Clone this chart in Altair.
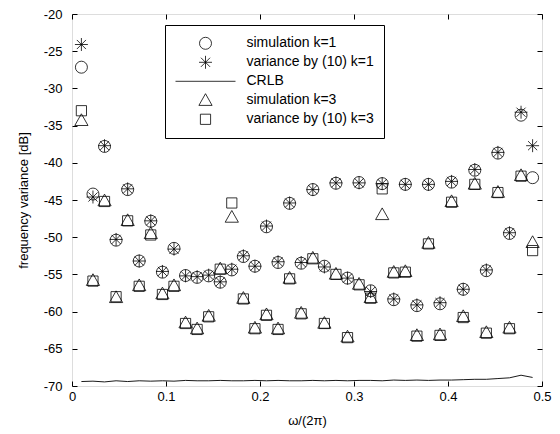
import altair as alt
import pandas as pd

# frequency positions omega/(2*pi)
x_vals = [0.0100, 0.0223, 0.0346, 0.0469, 0.0592, 0.0715, 0.0838, 0.0962, 0.1085, 0.1208,
          0.1331, 0.1454, 0.1577, 0.1700, 0.1823, 0.1946, 0.2069, 0.2192, 0.2315, 0.2438,
          0.2562, 0.2685, 0.2808, 0.2931, 0.3054, 0.3177, 0.3300, 0.3423, 0.3546, 0.3669,
          0.3792, 0.3915, 0.4038, 0.4162, 0.4285, 0.4408, 0.4531, 0.4654, 0.4777, 0.4900]

sim_k1 = [-27.15, -44.2, -37.8, -50.4, -43.6, -53.2, -47.85, -54.7, -51.5, -55.15,
          -55.4, -55.2, -56.05, -54.4, -52.6, -53.9, -48.6, -53.4, -45.45, -53.5,
          -43.6, -53.9, -42.75, -55.5, -42.65, -57.2, -42.8, -58.4, -42.9, -59.2,
          -42.9, -58.95, -42.6, -57.0, -41.0, -54.5, -38.7, -49.5, -33.6, -42.0]
var_k1 = [-24.1, -44.6, -37.7, -50.3, -43.5, -53.2, -47.8, -54.6, -51.6, -55.2,
          -55.3, -55.1, -56.0, -54.3, -52.5, -53.9, -48.5, -53.3, -45.4, -53.4,
          -43.6, -54.0, -42.7, -55.5, -42.7, -57.3, -42.8, -58.3, -42.9, -59.1,
          -42.9, -58.8, -42.5, -57.0, -40.9, -54.4, -38.6, -49.4, -33.2, -37.7]
sim_k3 = [-34.3, -55.8, -45.1, -58.1, -47.75, -56.5, -49.5, -57.6, -56.5, -61.5,
          -62.3, -60.6, -54.25, -47.3, -58.2, -62.2, -60.4, -62.3, -55.5, -60.2,
          -52.8, -61.55, -54.95, -63.4, -56.3, -58.1, -46.95, -54.7, -54.6, -63.2,
          -50.8, -63.1, -45.2, -60.65, -42.85, -62.8, -43.95, -62.2, -41.7, -50.7]
var_k3 = [-33.0, -55.9, -45.2, -58.0, -47.8, -56.6, -49.7, -57.7, -56.6, -61.6,
          -62.4, -60.7, -54.3, -45.4, -58.3, -62.3, -60.5, -62.4, -55.6, -60.3,
          -52.9, -61.6, -55.0, -63.5, -56.4, -58.2, -43.5, -54.8, -54.7, -63.3,
          -50.9, -63.2, -45.3, -60.8, -42.9, -62.9, -44.0, -62.3, -41.8, -51.8]
crlb = [-69.4, -69.35, -69.45, -69.3, -69.4, -69.3, -69.35, -69.3, -69.35, -69.25,
        -69.3, -69.3, -69.25, -69.3, -69.3, -69.25, -69.3, -69.25, -69.3, -69.3,
        -69.25, -69.3, -69.25, -69.3, -69.25, -69.25, -69.3, -69.2, -69.25, -69.2,
        -69.25, -69.2, -69.2, -69.15, -69.1, -69.1, -69.0, -68.9, -68.55, -68.85]

series_names = ["simulation k=1", "variance by (10) k=1", "CRLB",
                "simulation k=3", "variance by (10) k=3"]
x_ticks = [0, 0.1, 0.2, 0.3, 0.4, 0.5]
y_ticks = [-70, -65, -60, -55, -50, -45, -40, -35, -30, -25, -20]

STAR = "M-1.08,0L1.08,0M0,-1.08L0,1.08M-0.76,-0.76L0.76,0.76M-0.76,0.76L0.76,-0.76"
LINE = "M-5,0L5,0"
TRI = "M0,-1.1L1.1,0.85L-1.1,0.85Z"
SQ = "M-0.85,-0.85L0.85,-0.85L0.85,0.85L-0.85,0.85Z"
shapes = ["circle", STAR, LINE, TRI, SQ]

rows = []
for name, vals in [(series_names[0], sim_k1), (series_names[1], var_k1),
                   (series_names[3], sim_k3), (series_names[4], var_k3)]:
    for xv, yv in zip(x_vals, vals):
        rows.append({"x": xv, "y": yv, "series": name})
pts = pd.DataFrame(rows)
line_df = pd.DataFrame({"x": x_vals, "y": crlb, "series": ["CRLB"] * len(x_vals)})

FONT = "Liberation Sans"
TICK = dict(grid=True, gridDash=[5, 2000], gridColor="black", gridWidth=1,
            gridOpacity=1, ticks=False, domain=False, offset=0, zindex=1)


def xs():
    return alt.Scale(domain=[0, 0.5], nice=False, zero=False)


def ys():
    return alt.Scale(domain=[-70, -20], nice=False, zero=False)


x_axis = alt.Axis(values=x_ticks, labelExpr="format(datum.value, '.1~f')",
                  labelPadding=4, titlePadding=11, labelOverlap=False, labelFlush=False,
                  orient="bottom", title="ω/(2π)", labelFont=FONT, titleFont=FONT,
                  labelFontSize=13, titleFontSize=13, titleFontWeight="normal",
                  labelColor="black", titleColor="black", **TICK)
y_axis = alt.Axis(values=y_ticks, labelExpr="'' + datum.value", labelPadding=10,
                  titlePadding=13, labelOverlap=False, labelFlush=False, orient="left",
                  title="frequency variance [dB]", labelFont=FONT, titleFont=FONT,
                  labelFontSize=13, titleFontSize=13, titleFontWeight="normal",
                  labelColor="black", titleColor="black", **TICK)

legend = alt.Legend(orient="none", legendX=93, legendY=11, title=None, padding=10,
                    symbolOffset=23.5, labelOffset=34, labelFont=FONT, labelFontSize=14,
                    labelColor="black", strokeColor="black", fillColor="white",
                    symbolStrokeColor="black", symbolStrokeWidth=0.8, symbolSize=144,
                    clipHeight=16.6, rowPadding=2, cornerRadius=0, labelLimit=300)

points = alt.Chart(pts).mark_point(filled=False, size=144, strokeWidth=0.8,
                                   color="black", opacity=1).encode(
    x=alt.X("x:Q", scale=xs(), axis=x_axis),
    y=alt.Y("y:Q", scale=ys(), axis=y_axis),
    shape=alt.Shape("series:N", scale=alt.Scale(domain=series_names, range=shapes),
                    legend=legend),
)

line = alt.Chart(line_df).mark_line(color="black", strokeWidth=0.9).encode(
    x=alt.X("x:Q", scale=xs(), axis=None),
    y=alt.Y("y:Q", scale=ys(), axis=None),
)

ticks = alt.Chart(line_df).mark_line(opacity=0).encode(
    x=alt.X("x:Q", scale=xs(),
            axis=alt.Axis(orient="top", values=x_ticks, labels=False, title=None, **TICK)),
    y=alt.Y("y:Q", scale=ys(),
            axis=alt.Axis(orient="right", values=y_ticks, labels=False, title=None, **TICK)),
)

chart = alt.layer(points, line, ticks).resolve_scale(
    x="independent", y="independent"
).properties(
    width=470, height=372,
    autosize=alt.AutoSizeParams(type="none"),
    padding={"left": 64, "top": 6, "right": 10, "bottom": 46},
).configure_view(stroke="black", strokeWidth=1).configure(background="white")

chart.save("out.html", embed_options={"renderer": "svg", "actions": False})
